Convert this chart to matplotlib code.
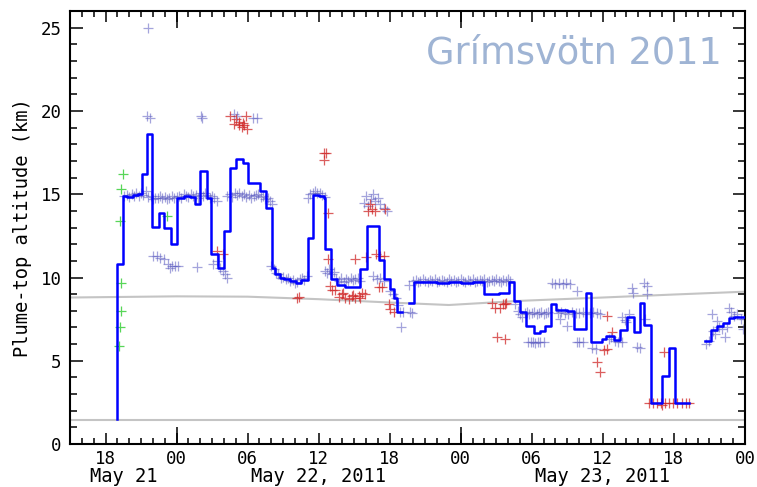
import numpy as np
import matplotlib
matplotlib.use("Agg")
import matplotlib.pyplot as plt
import matplotlib.transforms as mtransforms
from matplotlib.ticker import MultipleLocator, FuncFormatter

# time axis: hours since 2011-05-21 00:00 UTC
nan = np.nan

# retrieved plume-top altitude (step line), km
step_t = [19.0, 19.0, 19.5, 19.85, 20.3, 20.7, 21.06, 21.48, 21.96, 22.55, 22.95, 23.51,
          24.02, 24.6, 25.1, 25.57, 25.99, 26.55, 26.92, 27.54, 28.02, 28.52, 29.03, 29.58,
          30.05, 31.06, 31.57, 32.05, 32.35, 32.7, 33.1, 33.6, 34.1, 34.55, 35.06, 35.52,
          35.99, 36.41, 36.55, 37.04, 37.54, 38.25, 39.51, 40.08, 41.06, 41.54, 42.0, 42.39,
          42.6, 43.02, 43.03, 43.6, 44.08, 45.0, 46.0, 47.0, 48.0, 49.0, 49.94, 51.2,
          52.1, 52.53, 52.98, 53.55, 54.16, 54.67, 55.15, 55.63, 56.08, 56.98, 57.54, 58.62,
          59.01, 59.94, 60.31, 60.93, 61.49, 62.06, 62.62, 63.12, 63.52, 64.09, 65.02, 65.57,
          66.06, 67.27, 67.28, 68.59, 69.1, 69.61, 70.17, 70.65, 71.07, 72.0]
step_alt = [1.5, 10.8, 14.9, 14.85, 14.95, 15.0, 16.2, 18.6, 13.05, 13.9, 12.95, 12.0,
            14.8, 14.9, 14.85, 14.4, 16.4, 14.8, 11.4, 10.6, 12.8, 16.6, 17.15, 16.9,
            15.65, 15.2, 14.15, 10.6, 10.2, 10.0, 9.9, 9.8, 9.65, 9.85, 12.35, 14.97,
            14.9, 14.8, 11.7, 9.92, 9.55, 9.42, 10.5, 13.1, 11.05, 9.9, 9.3, 8.8,
            7.92, 7.92, nan, 8.46, 9.72, 9.75, 9.7, 9.75, 9.7, 9.72, 9.02, 9.1,
            9.75, 8.6, 7.9, 7.1, 6.67, 6.8, 7.1, 8.4, 8.05, 8.0, 6.9, 9.1,
            6.13, 6.3, 6.47, 6.23, 6.83, 7.6, 6.7, 8.46, 7.16, 2.47, 4.09, 5.79,
            2.47, 2.47, nan, 6.17, 6.87, 7.07, 7.26, 7.59, 7.65, 7.6]

# individual retrievals (blue)
blue_t = [
    # ~15 km band
    19.6, 19.8, 20.0, 20.2, 20.4, 20.6, 20.8, 21.0, 21.2, 21.4, 21.6, 21.8, 22.0, 22.2,
    22.4, 22.6, 22.8, 23.0, 23.2, 23.4, 23.6, 23.8, 24.0, 24.2, 24.4, 24.6, 24.8, 25.0,
    25.2, 25.4, 25.6, 25.8, 26.0, 26.2, 26.4, 26.6, 26.8, 27.0, 27.2, 27.4,
    28.3, 28.5, 28.7, 28.9, 29.1, 29.3, 29.5, 29.7, 29.9, 30.1, 30.3, 30.5, 30.7, 30.9,
    31.1, 31.3, 31.5, 31.7, 31.9, 32.1,
    # lower points ~11 km
    22.05, 22.35, 22.6, 22.9, 23.3, 23.45, 23.6, 23.9, 24.15, 25.7, 27.1, 27.4, 27.7,
    27.9, 28.1, 28.3,
    # high outliers
    21.57, 21.53, 21.76, 26.07, 26.13, 28.86, 29.09, 30.44, 30.78,
    # descent after 32 h
    32.0, 32.2, 32.4, 32.6, 32.8, 33.0, 33.2, 33.4, 33.6, 33.8, 34.0, 34.2, 34.4, 34.6,
    34.8, 35.0,
    35.14, 35.3, 35.5, 35.7, 35.9, 36.1, 36.3, 36.5,
    36.5, 36.7, 36.9, 37.1, 37.3, 37.5, 37.7, 37.9, 38.1, 38.3, 38.5, 38.7, 38.9, 39.1,
    39.3, 39.5,
    39.8, 40.0, 40.2, 40.4, 40.6, 40.8, 41.0, 41.2, 41.5, 41.8,
    40.6, 40.9, 41.2, 41.5,
    42.05, 42.3, 42.5, 42.7, 42.9, 43.15, 42.95, 43.7, 43.85,
    # ~9.8 km plateau
    43.6, 44.0, 44.2, 44.4, 44.6, 44.8, 45.0, 45.2, 45.4, 45.6, 45.8, 46.0, 46.2, 46.4,
    46.6, 46.8, 47.0, 47.2, 47.4, 47.6, 47.8, 48.0, 48.2, 48.4, 48.6, 48.8, 49.0, 49.2,
    49.4, 49.6, 49.8, 50.0, 50.2, 50.4, 50.6, 50.8, 51.0, 51.2, 51.4, 51.6, 51.8, 52.0,
    52.2,
    # May 23 daytime
    52.6, 52.8, 53.0, 53.2, 53.4, 53.6, 53.8, 54.0, 54.2, 54.4, 54.6, 54.8, 55.0, 55.2,
    55.4,
    53.7, 53.9, 54.1, 54.3, 54.5, 54.7, 55.0,
    55.7, 56.0, 56.3, 56.6, 56.9, 57.2, 57.8,
    56.2, 56.5, 56.8, 57.1, 57.4, 57.7, 58.0, 58.3, 58.6, 58.9, 59.2, 59.5, 59.8, 56.4,
    57.0,
    57.8, 58.0, 58.3, 59.1, 59.4, 60.5, 60.7, 61.0, 61.3, 61.6, 62.9, 63.1,
    61.9, 62.2, 62.5, 62.55, 63.45, 63.7, 63.75, 63.6, 61.6, 62.0,
    # late May 23
    68.75, 68.95, 69.25, 69.3, 69.5, 69.65, 69.8, 70.1, 70.3, 70.5, 70.65, 70.8, 71.05,
    71.35, 71.7, 71.8, 71.95,
]
blue_alt = [
    14.9, 14.95, 14.85, 15.0, 14.9, 15.05, 14.9, 15.1, 14.95, 15.2, 14.85, 14.9, 14.7, 14.8,
    14.75, 14.9, 14.8, 14.85, 14.7, 14.8, 14.9, 14.75, 14.85, 14.9, 14.8, 15.0, 14.9, 14.85,
    15.0, 14.9, 14.95, 14.8, 15.1, 14.9, 15.05, 14.95, 14.8, 14.9, 14.75, 14.6,
    14.9, 15.0, 14.85, 15.1, 14.95, 15.05, 14.9, 15.0, 14.85, 14.95, 14.8, 14.9, 14.95, 15.0,
    14.85, 14.9, 14.7, 14.8, 14.6, 14.4,
    11.3, 11.3, 11.2, 11.1, 10.8, 10.6, 10.7, 10.7, 10.7, 10.65, 10.8, 11.0, 10.6,
    10.4, 10.2, 10.0,
    25.0, 19.7, 19.6, 19.7, 19.6, 19.8, 19.7, 19.6, 19.6,
    10.7, 10.5, 10.3, 10.2, 10.0, 10.05, 9.9, 9.95, 9.8, 9.85, 9.7, 9.75, 9.9, 10.0,
    9.85, 10.1,
    14.8, 15.0, 15.1, 15.2, 15.05, 15.1, 14.95, 14.85,
    10.4, 10.3, 10.5, 10.2, 10.35, 9.9, 9.8, 10.0, 9.75, 9.9, 9.8, 10.0, 9.85, 9.9,
    10.0, 9.8,
    14.5, 14.9, 14.3, 14.7, 15.0, 14.6, 14.8, 14.4, 14.2, 14.0,
    10.1, 9.9, 10.0, 9.8,
    9.2, 9.0, 8.75, 8.35, 7.9, 7.9, 7.0, 7.95, 7.85,
    9.58, 9.8, 9.85, 9.75, 9.8, 9.9, 9.8, 9.75, 9.85, 9.8, 9.9, 9.75, 9.8, 9.85,
    9.8, 9.75, 9.9, 9.8, 9.85, 9.75, 9.8, 9.9, 9.8, 9.75, 9.85, 9.8, 9.9, 9.75,
    9.8, 9.85, 9.8, 9.9, 9.75, 9.8, 9.85, 9.8, 9.9, 9.8, 9.75, 9.85, 9.8, 9.9,
    9.8,
    8.4, 8.0, 7.8, 7.6, 7.85, 7.9, 7.8, 7.85, 7.9, 7.8, 7.85, 7.9, 7.8, 7.85,
    7.9,
    6.1, 6.15, 6.1, 6.05, 6.15, 6.1, 6.1,
    9.7, 9.6, 9.65, 9.6, 9.65, 9.6, 9.2,
    7.85, 7.9, 7.85, 7.8, 7.9, 7.85, 7.85, 7.9, 7.8, 7.85, 7.9, 7.85, 7.8, 7.5,
    7.1,
    6.1, 6.15, 6.1, 5.75, 5.7, 6.3, 6.4, 6.2, 6.15, 6.1, 5.8, 5.75,
    7.45, 7.8, 9.4, 9.1, 9.7, 9.5, 9.0, 7.5, 7.6, 7.3,
    6.0, 6.2, 7.8, 6.8, 6.6, 7.4, 7.0, 6.9, 6.4, 7.0, 8.2, 7.9, 7.7,
    7.8, 7.5, 6.9, 7.5,
]

# retrievals flagged red
red_t = [28.47, 28.86, 29.03, 29.23, 29.31, 29.51, 29.65, 29.71, 29.88, 29.94,
         27.45, 27.91, 34.16, 34.38, 36.41, 36.64, 36.41, 36.83, 36.75,
         36.98, 37.12, 37.4, 37.68, 37.97, 38.08, 38.25, 38.53, 38.81, 38.92, 39.09,
         39.37, 39.51, 39.66, 39.94, 39.09, 40.02,
         40.13, 40.36, 40.5, 40.78, 41.57, 40.87, 41.2, 41.48, 41.06, 41.35,
         41.9, 42.05, 42.33,
         50.64, 50.92, 51.35, 51.57, 51.77, 51.86, 51.1, 51.77,
         60.37, 60.79, 60.08, 60.37, 59.55, 59.8, 65.15,
         63.86, 64.2, 64.55, 64.9, 65.25, 65.6, 65.95, 66.3, 66.65, 67.0, 67.25, 65.02]
red_alt = [19.7, 19.25, 19.5, 19.15, 19.35, 19.05, 19.3, 19.15, 19.7, 18.9,
           11.6, 11.4, 8.8, 8.85, 17.5, 17.5, 17.05, 13.9, 11.1,
           9.5, 9.26, 9.26, 8.86, 9.0, 9.05, 8.8, 8.7, 8.9, 8.95, 8.8,
           8.9, 8.75, 9.1, 9.0, 11.1, 11.25,
           14.0, 14.4, 14.1, 14.0, 14.1, 11.4, 11.3, 11.3, 9.42, 9.42,
           8.4, 8.1, 7.9,
           8.5, 8.2, 8.2, 8.4, 8.4, 8.46, 6.4, 6.3,
           7.66, 6.7, 5.67, 5.7, 4.9, 4.3, 5.5,
           2.47, 2.47, 2.47, 2.47, 2.47, 2.47, 2.47, 2.47, 2.47, 2.47, 2.47, 2.33]

# retrievals flagged green
green_t = [19.45, 19.29, 19.23, 19.31, 19.29, 19.23, 19.17, 23.17]
green_alt = [16.2, 15.3, 13.4, 9.7, 8.0, 7.0, 5.9, 13.7]

# reference heights (grey)
tropo_t = [15, 24, 30, 36, 42, 47, 53, 60, 66, 72]
tropo_alt = [8.8, 8.87, 8.85, 8.7, 8.5, 8.35, 8.6, 8.8, 8.98, 9.15]
vent_alt = 1.45

day_labels = ["May 21", "May 22, 2011", "May 23, 2011"]
day_label_t = [19.5, 36.0, 60.0]

mono = "DejaVu Sans Mono"

fig = plt.figure(figsize=(7.57, 4.87), dpi=100)
ax = fig.add_axes([0.0925, 0.0883, 0.8915, 0.8887])

ax.plot(tropo_t, tropo_alt, color="#c4c4c4", lw=1.5, zorder=1)
ax.axhline(vent_alt, color="#c4c4c4", lw=1.5, zorder=1)

mk = dict(linestyle="none", marker="+", ms=6.5, mew=0.9)
ax.plot(blue_t, blue_alt, color="#5a5ac0", alpha=0.55, zorder=2, **mk)
ax.plot(red_t, red_alt, color="#d02828", alpha=0.75, zorder=2, **mk)
ax.plot(green_t, green_alt, color="#2ecc2e", alpha=0.8, zorder=2, **mk)

ax.step(step_t, step_alt, where="post", color="#0000ff", lw=1.8, zorder=3)

ax.set_xlim(15, 72)
ax.set_ylim(0, 26)

ax.xaxis.set_major_locator(MultipleLocator(6))
ax.xaxis.set_minor_locator(MultipleLocator(1))
ax.xaxis.set_major_formatter(FuncFormatter(lambda v, p: f"{int(round(v)) % 24:02d}"))
ax.yaxis.set_major_locator(MultipleLocator(5))
ax.yaxis.set_minor_locator(MultipleLocator(1))

ax.tick_params(which="both", direction="in", top=True, right=True, width=1.1,
               labelsize=12.5, colors="black")
ax.tick_params(which="major", length=8, pad=4)
ax.tick_params(which="minor", length=4)
ax.tick_params(axis="y", which="major", length=9, pad=6)
ax.tick_params(axis="y", which="minor", length=5)
for lab in ax.get_xticklabels() + ax.get_yticklabels():
    lab.set_fontfamily(mono)

# longer ticks at day boundaries
for loc in ("bottom", "top"):
    sec = ax.secondary_xaxis(loc)
    sec.set_xticks([24, 48, 72])
    sec.tick_params(direction="in", length=12, width=1.1, labelbottom=False,
                    labeltop=False)
    sec.spines[loc].set_visible(False)

for s in ax.spines.values():
    s.set_linewidth(1.5)

trans = mtransforms.blended_transform_factory(ax.transData, ax.transAxes)
for t, lab in zip(day_label_t, day_labels):
    ax.text(t, -0.076, lab, transform=trans, ha="center", va="center",
            fontsize=13.5, family=mono)

ax.set_ylabel("Plume-top altitude (km)", fontsize=13.5, family=mono, labelpad=6)

ax.text(0.966, 0.88, "Grímsvötn 2011", transform=ax.transAxes, ha="right",
        va="baseline", fontsize=26.5, color="#9fb4d4", family="DejaVu Sans")

fig.savefig("out.png", dpi=100)
